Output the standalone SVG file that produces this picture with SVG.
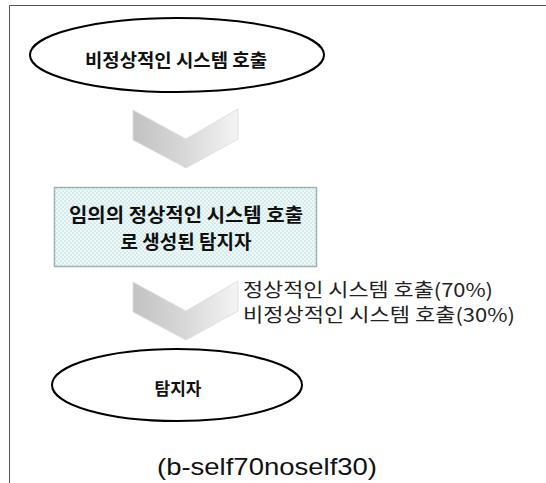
<svg xmlns="http://www.w3.org/2000/svg" width="546" height="483" viewBox="0 0 546 483">
<style>
.kb{font-family:"Noto Sans CJK KR","Noto Sans",sans-serif;font-weight:bold;fill:#111;text-anchor:middle}
.kn{font-family:"Noto Sans CJK KR","Noto Sans",sans-serif;fill:#222;font-size:19px}
.ell{fill:#fff;stroke:#000;stroke-width:2}
.chev{fill:url(#cg);stroke:#e0e0e0;stroke-width:1}
</style>
<defs>
<linearGradient id="cg" x1="0" y1="0" x2="1" y2="0">
<stop offset="0" stop-color="#c2c2c2"/>
<stop offset="0.5" stop-color="#d8d8d8"/>
<stop offset="1" stop-color="#f4f4f4"/>
</linearGradient>
<pattern id="hatch" width="4" height="4" patternUnits="userSpaceOnUse">
<rect width="4" height="4" fill="#eef8f8"/>
<rect width="2" height="2" fill="#d6ecec"/>
<rect x="2" y="2" width="2" height="2" fill="#d6ecec"/>
</pattern>
</defs>
<rect width="546" height="483" fill="#fff"/>
<path d="M9.5 483 V5.5 H546" fill="none" stroke="#555" stroke-width="1"/>
<g id="connectors">
<polygon class="chev" points="133,110 186,139 238,109 238,139 186,168 133,140"/>
<polygon class="chev" points="133,282 186,311 238,281 238,311 186,340 133,312"/>
</g>
<g id="n1">
<ellipse class="ell" cx="177" cy="55" rx="147" ry="37"/>
<text class="kb" x="176" y="67" font-size="18" textLength="182" lengthAdjust="spacingAndGlyphs">비정상적인 시스템 호출</text>
</g>
<g id="n2">
<rect x="54.5" y="187.5" width="262" height="79" fill="url(#hatch)" stroke="#9db3b3" stroke-width="1.5"/>
<text class="kb" x="186" y="222" font-size="19" textLength="234" lengthAdjust="spacingAndGlyphs">임의의 정상적인 시스템 호출</text>
<text class="kb" x="186" y="249" font-size="19">로 생성된 탐지자</text>
</g>
<g id="lbl">
<text class="kn" x="243" y="297" textLength="250" lengthAdjust="spacingAndGlyphs">정상적인 시스템 호출(70%)</text>
<text class="kn" x="243" y="322" textLength="272" lengthAdjust="spacingAndGlyphs">비정상적인 시스템 호출(30%)</text>
</g>
<g id="n3">
<ellipse class="ell" cx="177" cy="385" rx="125" ry="36"/>
<text class="kb" x="178" y="395" font-size="17">탐지자</text>
</g>
<text x="267" y="475" font-family="Liberation Sans,Arial,sans-serif" font-size="24" fill="#111" text-anchor="middle" textLength="220" lengthAdjust="spacingAndGlyphs">(b-self70noself30)</text>
</svg>
